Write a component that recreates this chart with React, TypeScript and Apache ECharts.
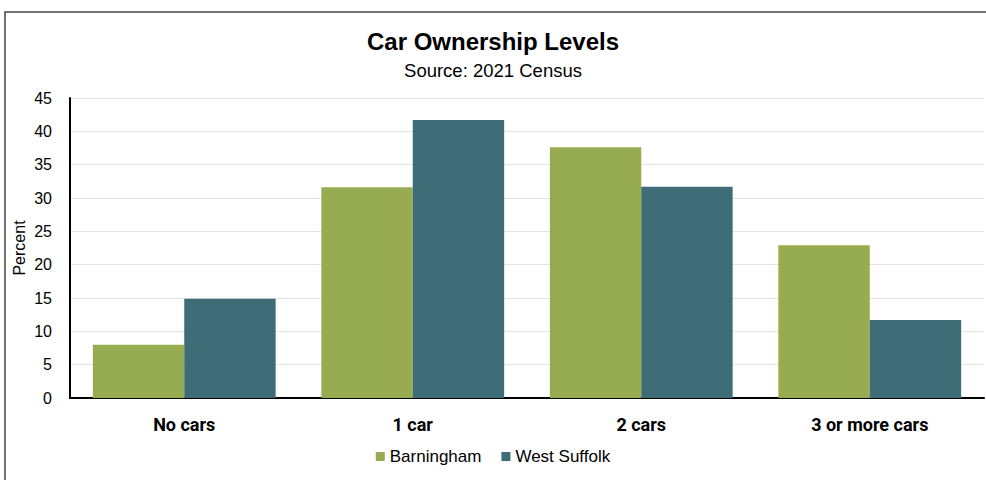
import React, { useEffect, useRef } from "react";
import * as echarts from "echarts";

const categories = ["No cars", "1 car", "2 cars", "3 or more cars"];
const barningham = [8.0, 31.6, 37.6, 22.9];
const westSuffolk = [14.9, 41.7, 31.7, 11.7];
const seriesNames = ["Barningham", "West Suffolk"];
const titleText = "Car Ownership Levels";
const subtitleText = "Source: 2021 Census";
const yAxisName = "Percent";

export default function App() {
  const ref = useRef<HTMLDivElement>(null);
  useEffect(() => {
    if (!ref.current) return;
    const chart = echarts.init(ref.current, null, { renderer: "svg" });
    chart.setOption({
      animation: false,
      backgroundColor: "#ffffff",
      graphic: [
        {
          type: "rect",
          shape: { x: 5, y: 12, width: 1000, height: 500 },
          style: { fill: "none", stroke: "#444444", lineWidth: 1.5 },
          silent: true,
          z: -1,
        },
      ],
      title: [
        {
          text: titleText,
          left: "center",
          top: 24,
          textStyle: {
            fontFamily: "Liberation Sans",
            fontWeight: "bold",
            fontSize: 24,
            color: "#000000",
          },
        },
        {
          text: subtitleText,
          left: "center",
          top: 56,
          textStyle: {
            fontFamily: "Liberation Sans",
            fontWeight: "normal",
            fontSize: 18.5,
            color: "#000000",
          },
        },
      ],
      legend: {
        data: seriesNames,
        bottom: 10,
        left: "center",
        itemWidth: 9,
        itemHeight: 9,
        itemGap: 20,
        icon: "rect",
        textStyle: { fontFamily: "Liberation Sans", fontSize: 17, color: "#000000" },
      },
      grid: { left: 70, right: 2, top: 98, bottom: 82, containLabel: false },
      xAxis: {
        type: "category",
        data: categories,
        axisLine: { show: true, lineStyle: { color: "#000000", width: 2 } },
        axisTick: { show: false },
        axisLabel: {
          margin: 17,
          fontFamily: "Roboto",
          fontWeight: "bold",
          fontSize: 18,
          color: "#000000",
        },
      },
      yAxis: {
        type: "value",
        min: 0,
        max: 45,
        interval: 5,
        name: yAxisName,
        nameLocation: "middle",
        nameGap: 43,
        nameMoveOverlap: false,
        nameTextStyle: { fontFamily: "Liberation Sans", fontSize: 16, color: "#000000" },
        axisLine: { show: true, lineStyle: { color: "#000000", width: 2 } },
        axisTick: { show: false },
        axisLabel: {
          margin: 18,
          fontFamily: "Liberation Sans",
          fontSize: 16,
          color: "#000000",
        },
        splitLine: { show: true, lineStyle: { color: "#e3e3e3", width: 1 } },
      },
      series: [
        {
          name: seriesNames[0],
          type: "bar",
          data: barningham,
          barGap: "0%",
          barCategoryGap: "20%",
          itemStyle: { color: "#97AB51" },
        },
        {
          name: seriesNames[1],
          type: "bar",
          data: westSuffolk,
          barGap: "0%",
          barCategoryGap: "20%",
          itemStyle: { color: "#3E6C77" },
        },
      ],
    });
    return () => chart.dispose();
  }, []);
  return <div ref={ref} style={{ width: 986, height: 480, position: "absolute", left: 0, top: 0 }} />;
}
